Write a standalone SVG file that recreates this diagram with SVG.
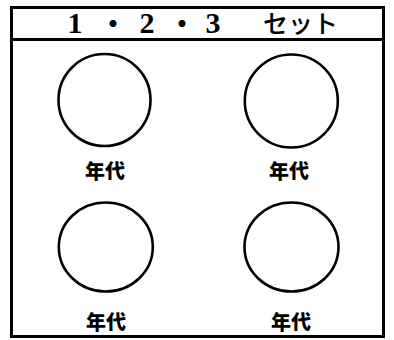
<svg xmlns="http://www.w3.org/2000/svg" width="394" height="340" viewBox="0 0 394 340">
<style>
.frame{fill:#fff;stroke:#000;stroke-width:3}
.rule{stroke:#000;stroke-width:3}
.ring{fill:none;stroke:#000;stroke-width:2.6}
.lbl{font-family:"Noto Sans CJK JP","Noto Sans",sans-serif;font-weight:900;font-size:20px;text-anchor:middle;fill:#000}
.num{font-family:"Liberation Serif","Noto Sans CJK JP",serif;font-weight:bold;font-size:30px;text-anchor:middle;fill:#000}
.kana{font-family:"Noto Sans CJK JP",sans-serif;font-weight:500;font-size:25px;fill:#000}
.dot{font-family:"Noto Sans CJK JP",sans-serif;font-weight:900;font-size:25px;text-anchor:middle;fill:#000}
</style>
<rect width="394" height="340" fill="#fff"/>
<g id="frame">
<rect class="frame" x="11.5" y="7.5" width="372" height="329"/>
<line class="rule" x1="10" y1="39.5" x2="385" y2="39.5"/>
</g>
<g id="title">
<text y="33"><tspan class="num" x="75">1</tspan><tspan class="dot" x="113">・</tspan><tspan class="num" x="147">2</tspan><tspan class="dot" x="182">・</tspan><tspan class="num" x="213">3</tspan><tspan class="kana" x="263">セット</tspan></text>
</g>
<g id="n1">
<circle class="ring" cx="104.5" cy="100" r="46"/>
<text class="lbl" x="105" y="179">年代</text>
</g>
<g id="n2">
<circle class="ring" cx="291.3" cy="101" r="46.5"/>
<text class="lbl" x="289" y="179">年代</text>
</g>
<g id="n3">
<ellipse class="ring" cx="105.8" cy="247" rx="47" ry="44.5"/>
<text class="lbl" x="106" y="330">年代</text>
</g>
<g id="n4">
<ellipse class="ring" cx="291.5" cy="247" rx="47" ry="44.5"/>
<text class="lbl" x="291" y="330">年代</text>
</g>
</svg>
